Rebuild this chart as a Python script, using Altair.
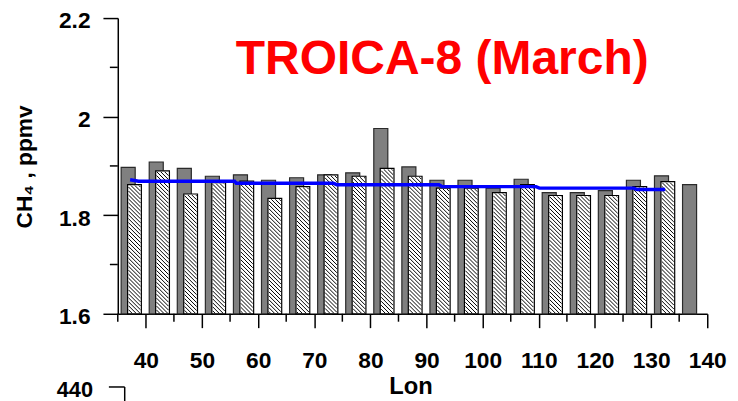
import altair as alt
import pandas as pd
import numpy as np

# ---- data ----
lon_bins = [37.5, 42.5, 47.5, 52.5, 57.5, 62.5, 67.5, 72.5, 77.5, 82.5, 87.5,
            92.5, 97.5, 102.5, 107.5, 112.5, 117.5, 122.5, 127.5, 132.5, 137.5]
ch4_gray = [1.897, 1.908, 1.895, 1.879, 1.882, 1.871, 1.876, 1.882, 1.886, 1.976, 1.898,
            1.871, 1.871, 1.855, 1.873, 1.846, 1.846, 1.850, 1.871, 1.880, 1.862]
ch4_hatched = [1.862, 1.890, 1.843, 1.866, 1.869, 1.834, 1.858, 1.882, 1.879, 1.895,
               1.879, 1.855, 1.855, 1.846, 1.862, 1.840, 1.840, 1.840, 1.858, 1.868]
trend_lon = [37.2, 38.7, 55.8, 56.1, 73.4, 74.0, 92.2, 92.8, 109.5, 110.1, 126.9, 127.5, 132.5]
trend_ch4 = [1.872, 1.869, 1.869, 1.865, 1.865, 1.862, 1.862, 1.858, 1.858, 1.855, 1.855, 1.852, 1.852]
x_ticks = [40, 50, 60, 70, 80, 90, 100, 110, 120, 130, 140]
x_minor = [35, 45, 55, 65, 75, 85, 95, 105, 115, 125, 135]
y_ticks = [1.6, 1.8, 2.0, 2.2]
y_minor = [1.7, 1.9, 2.1]

W, H = 596, 299
X0, X1 = 35, 140
Y0, Y1 = 1.6, 2.2
FONT = "Liberation Sans"

gray_df = pd.DataFrame({"lon": lon_bins, "ch4": ch4_gray})
hatch_df = pd.DataFrame({"lon": lon_bins[:len(ch4_hatched)], "ch4": ch4_hatched})
trend_df = pd.DataFrame({"lon": trend_lon, "ch4": trend_ch4})

# hatch lines ("\\") inside the hatched bars, derived from the bar values
sx = W / (X1 - X0)
sy = H / (Y1 - Y0)
rows = []
for c, v in zip(hatch_df["lon"], hatch_df["ch4"]):
    xa = (c - 0.75 - X0) * sx + 0.9
    xb = (c + 1.7 - X0) * sx - 0.9
    yt = (Y1 - v) * sy + 0.9
    yb = H - 0.6
    step = 4.0
    b = np.floor((yt - xb) / step) * step
    while b < yb - xa:
        lo = max(xa, yt - b)
        hi = min(xb, yb - b)
        if hi - lo > 0.3:
            rows.append({"hx": X0 + lo / sx, "hx2": X0 + hi / sx,
                         "hy": Y1 - (lo + b) / sy, "hy2": Y1 - (hi + b) / sy})
        b += step
hatch_lines = pd.DataFrame(rows)

xs = alt.Scale(domain=[X0, X1], nice=False, zero=False)
ys = alt.Scale(domain=[Y0, Y1], nice=False, zero=False)

xaxis = alt.Axis(values=x_ticks, tickSize=14, labelPadding=22, labelFlush=False,
                 labelBaseline="top", title="Lon", titleX=296, titleY=81,
                 titleBaseline="alphabetic", titleAlign="center", titleFontSize=24,
                 titleAngle=0)
yaxis = alt.Axis(values=y_ticks, tickSize=15, labelPadding=13, format="~g",
                 labelBaseline="middle", labelOffset=3,
                 title="CH\u2084 , ppmv", titleAngle=270, titleX=-87, titleY=150,
                 titleAlign="center", titleBaseline="alphabetic", titleFontSize=23)

gray = alt.Chart(gray_df).transform_calculate(
    xa="datum.lon - 1.9", xb="datum.lon + 0.6"
).mark_rect(fill="#808080", stroke="#2a2a2a", strokeWidth=1.2).encode(
    x=alt.X("xa:Q", scale=xs, axis=xaxis),
    x2="xb:Q",
    y=alt.Y("ch4:Q", scale=ys, axis=yaxis),
    y2=alt.datum(Y0),
)

hatched = alt.Chart(hatch_df).transform_calculate(
    xa="datum.lon - 0.75", xb="datum.lon + 1.7"
).mark_rect(fill="white", stroke="black", strokeWidth=1.2).encode(
    x=alt.X("xa:Q", scale=xs, axis=xaxis),
    x2="xb:Q",
    y=alt.Y("ch4:Q", scale=ys, axis=yaxis),
    y2=alt.datum(Y0),
)

hatch = alt.Chart(hatch_lines).mark_rule(color="black", strokeWidth=1).encode(
    x=alt.X("hx:Q", scale=xs, axis=xaxis),
    x2="hx2:Q",
    y=alt.Y("hy:Q", scale=ys, axis=yaxis),
    y2="hy2:Q",
)

trend = alt.Chart(trend_df).mark_line(color="#0000ff", strokeWidth=3.5).encode(
    x=alt.X("lon:Q", scale=xs, axis=xaxis),
    y=alt.Y("ch4:Q", scale=ys, axis=yaxis),
)

ymin_ticks = alt.Chart(pd.DataFrame({"v": y_minor})).mark_rule(
    color="black", strokeWidth=1.5).encode(
    y=alt.Y("v:Q", scale=ys, axis=yaxis),
    x=alt.value(-8), x2=alt.value(0),
)
xmin_ticks = alt.Chart(pd.DataFrame({"v": x_minor})).mark_rule(
    color="black", strokeWidth=1.5).encode(
    x=alt.X("v:Q", scale=xs, axis=xaxis),
    y=alt.value(H), y2=alt.value(H + 8),
)

title = alt.Chart(pd.DataFrame({"t": ["TROICA-8 (March)"]})).mark_text(
    font=FONT, fontSize=48.5, fontWeight="bold", color="#ff0000",
    align="center", baseline="alphabetic").encode(
    text="t:N", x=alt.value(328), y=alt.value(57))

# fragment of the next panel's axis at the bottom-left
frag_text = alt.Chart(pd.DataFrame({"t": ["440"]})).mark_text(
    font=FONT, fontSize=22, fontWeight="bold", color="black",
    align="right", baseline="alphabetic").encode(
    text="t:N", x=alt.value(-25), y=alt.value(383))
frag_h = alt.Chart(pd.DataFrame({"t": [0]})).mark_rule(color="black", strokeWidth=1.5).encode(
    x=alt.value(-9), x2=alt.value(7), y=alt.value(373))
frag_v = alt.Chart(pd.DataFrame({"t": [0]})).mark_rule(color="black", strokeWidth=1.5).encode(
    x=alt.value(7), y=alt.value(373), y2=alt.value(390))

chart = alt.layer(
    gray, hatched, hatch, trend, ymin_ticks, xmin_ticks, title, frag_text, frag_h, frag_v
).properties(
    width=W, height=H,
    autosize=alt.AutoSizeParams(type="none"),
    padding={"left": 111, "top": 8, "right": 23, "bottom": 86},
).configure_view(stroke=None).configure_axis(
    grid=False, domainColor="black", domainWidth=1.5, tickColor="black",
    tickWidth=1.5, labelFont=FONT, labelFontSize=23, labelFontWeight="bold",
    labelColor="black", titleFont=FONT, titleFontWeight="bold", titleColor="black",
)

chart.save("out.html", embed_options={"renderer": "svg", "actions": False})
